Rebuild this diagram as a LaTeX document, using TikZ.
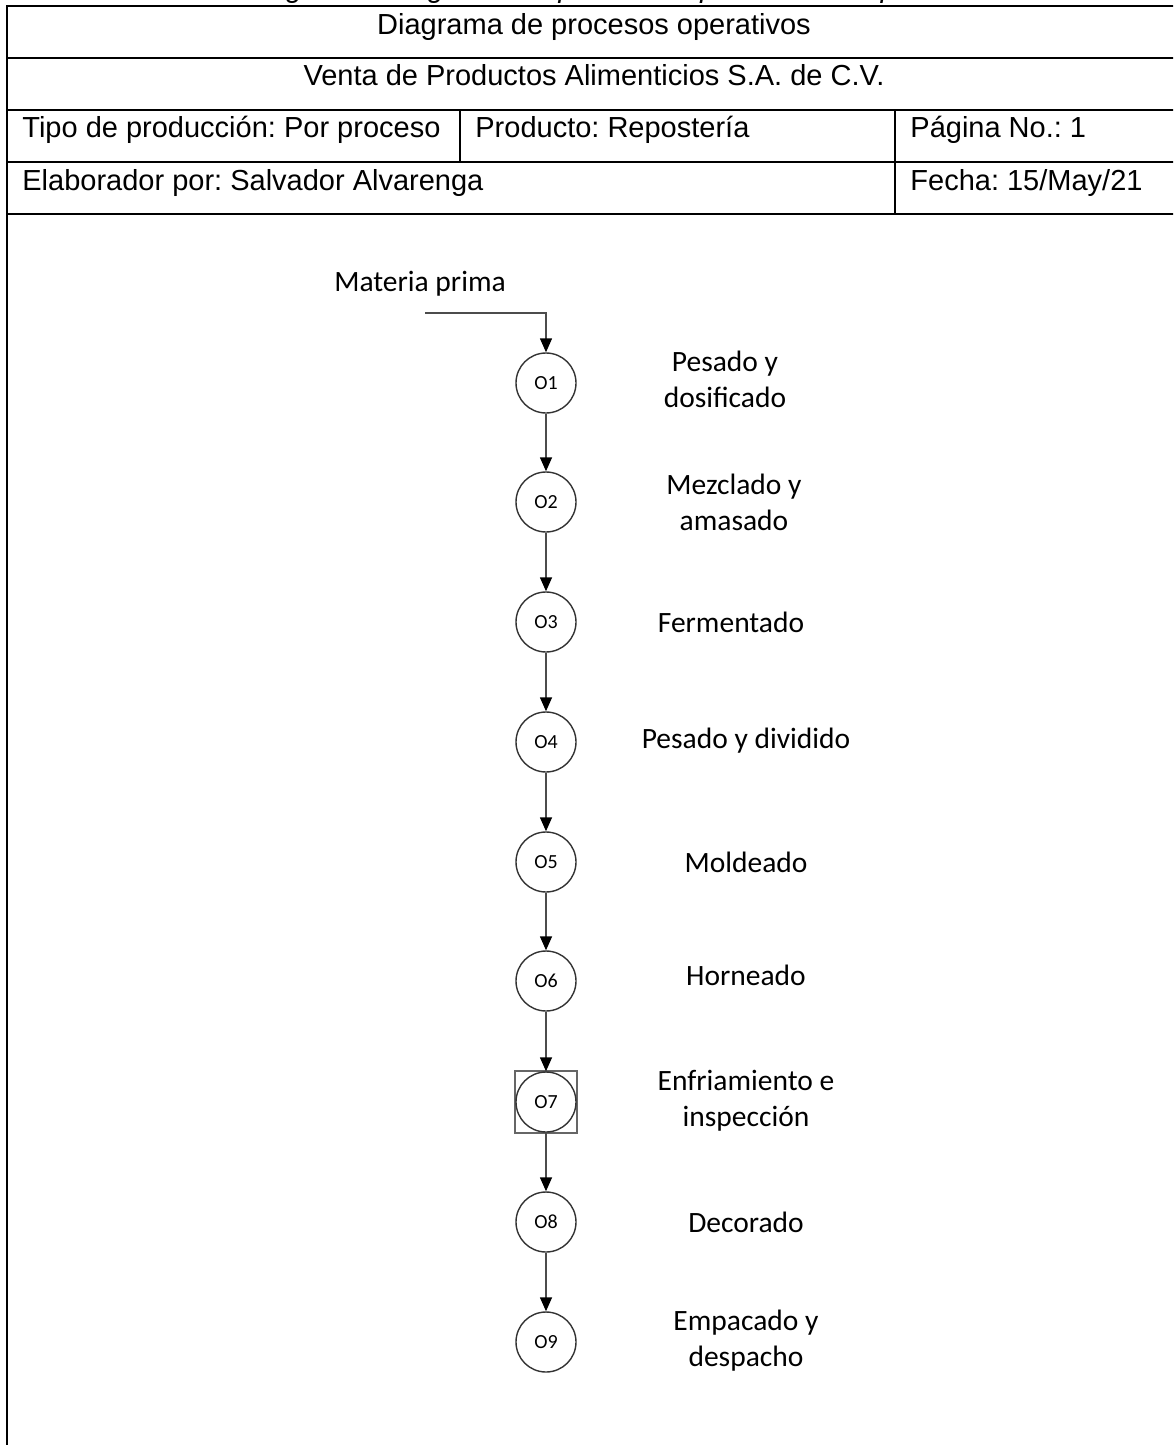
\documentclass[tikz,border=0pt]{standalone}
\usepackage{fontspec}
\setmainfont{Liberation Sans}
\newfontfamily\calibri{Carlito}
\usetikzlibrary{arrows.meta}
\frenchspacing
\begin{document}
\begin{tikzpicture}[x=0.5pt,y=-0.5pt,
  tline/.style={line width=1pt},
  cell/.style={anchor=base west, inner sep=0, font=\fontsize{14.5pt}{17pt}\selectfont},
  ctitle/.style={anchor=base, inner sep=0, font=\fontsize{14.5pt}{17pt}\selectfont},
  opc/.style={circle, draw=black!80, line width=0.7pt, minimum size=30pt, inner sep=0, fill=white, font=\calibri\fontsize{10pt}{12pt}\selectfont},
  lbl/.style={align=center, inner sep=0, font=\calibri\fontsize{14.75pt}{18pt}\selectfont},
  flow/.style={draw=black!70, line width=0.7pt, -{Triangle[length=7pt,width=6pt,color=black]}},
]
\useasboundingbox (0,0) rectangle (1173,1445);
\clip (0,0) rectangle (1173,1445);
% cut-off caption
\node[anchor=base, inner sep=0, font=\itshape\fontsize{14.5pt}{17pt}\selectfont] (cap) at (624,-2) {Figura 3. Diagrama de procesos operativos - Repostería};
% table
\draw[tline] (7,1450) -- (7,6) -- (1185,6);
\draw[tline] (7,58) -- (1185,58);
\draw[tline] (7,110) -- (1185,110);
\draw[tline] (7,162) -- (1185,162);
\draw[tline] (7,214) -- (1185,214);
\draw[tline] (460,110) -- (460,162);
\draw[tline] (895,110) -- (895,214);
\node[ctitle] (t1) at (594,35) {Diagrama de procesos operativos};
\node[ctitle] (t2) at (594,86) {Venta de Productos Alimenticios S.A. de C.V.};
\node[cell] (c1) at (22,138) {Tipo de producción: Por proceso};
\node[cell] (c2) at (475,138) {Producto: Repostería};
\node[cell] (c3) at (910,138) {Página No.: 1};
\node[cell] (c4) at (22,191) {Elaborador por: Salvador Alvarenga};
\node[cell] (c5) at (910,191) {Fecha: 15/May/21};
% flow
\node[lbl] (tmp) at (420,284) {Materia prima};
\coordinate (mp) at (425,313);
\node[draw=black!60, line width=0.8pt, minimum size=31pt, inner sep=0] (sq7) at (546,1102) {};
\foreach \i/\y in {1/383,2/502,3/622,4/742,5/862,6/981,7/1102,8/1222,9/1342}
  \node[opc] (o\i) at (546,\y) {O\i};
\draw[flow] (mp) -| (o1.north);
\foreach \a/\b in {1/2,2/3,3/4,4/5,5/6,6/7,7/8,8/9}
  \draw[flow] (o\a) -- (o\b);
\node[lbl] (l1) at (725,379) {Pesado y\\dosificado};
\node[lbl] (l2) at (734,502) {Mezclado y\\amasado};
\node[lbl] (l3) at (731,622) {Fermentado};
\node[lbl] (l4) at (746,741) {Pesado y dividido};
\node[lbl] (l5) at (746,862) {Moldeado};
\node[lbl] (l6) at (746,975) {Horneado};
\node[lbl] (l7) at (746,1101) {Enfriamiento e\\inspección};
\node[lbl] (l8) at (746,1222) {Decorado};
\node[lbl] (l9) at (746,1341) {Empacado y\\despacho};
\end{tikzpicture}
\end{document}
